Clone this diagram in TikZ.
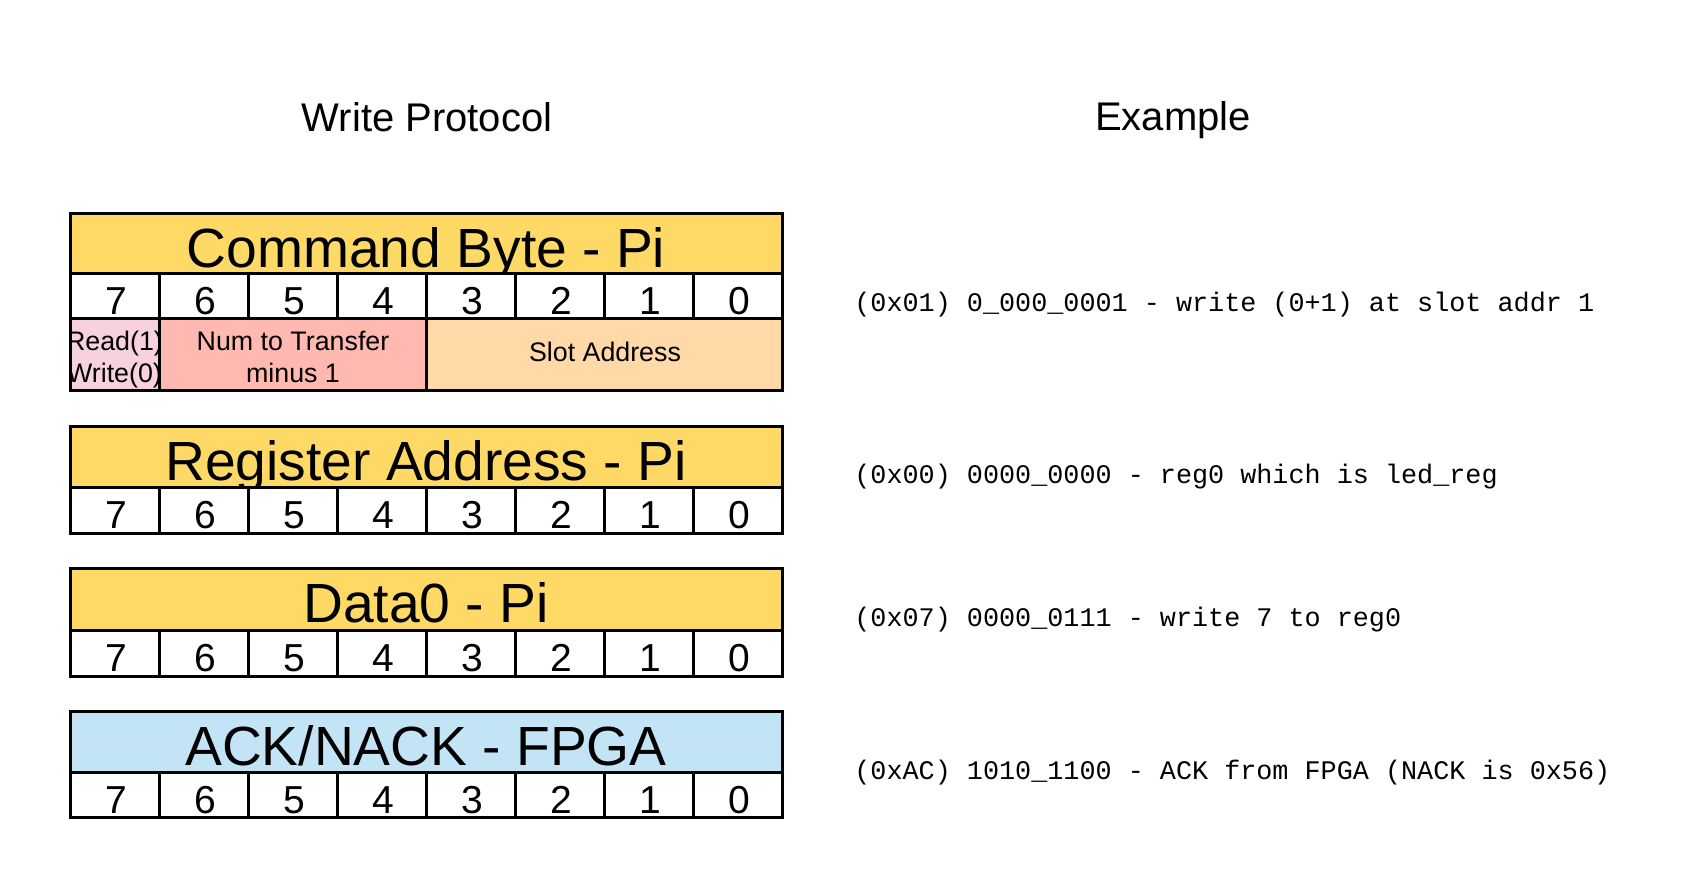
\documentclass[tikz,border=0pt]{standalone}
\usepackage{fontspec}
\setmainfont{Liberation Sans}
\setmonofont{Liberation Mono}

\definecolor{titleyellow}{HTML}{FFD966}
\definecolor{ackblue}{HTML}{C3E4F5}
\definecolor{rwpink}{HTML}{F8D1DE}
\definecolor{numsalmon}{HTML}{FFB9B0}
\definecolor{slotpeach}{HTML}{FFD9A8}

\tikzset{
  boxcell/.style={draw=black, line width=1.5pt, rectangle, inner sep=0pt, outer sep=0pt, anchor=north west},
  titlecell/.style={boxcell, minimum width=356pt},
  bitcell/.style={boxcell, fill=white, minimum width=44.5pt},
  heading/.style={anchor=base, inner sep=0pt, font=\fontsize{20}{24}\selectfont},
  titletext/.style={anchor=base, inner sep=0pt, font=\fontsize{27.6}{33}\selectfont},
  bittext/.style={anchor=base, inner sep=0pt, font=\fontsize{19.5}{23}\selectfont},
  fieldtext/.style={anchor=base, inner sep=0pt, font=\fontsize{13.4}{16}\selectfont},
  example/.style={anchor=base west, inner sep=0pt, font=\ttfamily\fontsize{13.4}{16}\selectfont},
}

% #1 name, #2 top, #3 title row height, #4 bit row height, #5 fill, #6 title
\newcommand{\bytebox}[6]{%
  \node[titlecell, fill=#5, minimum height=#3*0.5pt] (#1) at (70,#2) {};
  \node[titletext] (#1-t) at ([yshift=-27.25pt]#1.north) {#6};
  \foreach \b [evaluate=\b as \xx using 70+89*(7-\b)] in {7,6,5,4,3,2,1,0} {
    \node[bitcell, minimum height=#4*0.5pt] (#1-b\b) at (\xx,#2+#3) {};
    \node[bittext] (#1-n\b) at ([xshift=1.1pt,yshift=-20.75pt]#1-b\b.north) {\b};
  }%
}

\begin{document}
\begin{tikzpicture}[x=0.5pt,y=-0.5pt]
\useasboundingbox[fill=white] (0,0) rectangle (1707,891);

% column headings
\node[heading] (hproto) at (427,131.5) {Write Protocol};
\node[heading] (hexample) at (1173,130.7) {Example};

% command byte with its field row
\bytebox{cmd}{213}{60}{45}{titleyellow}{Command Byte - Pi}
\node[boxcell, fill=rwpink, minimum width=44.5pt, minimum height=36pt] (rw) at (70,318) {};
\node[boxcell, fill=numsalmon, minimum width=133.5pt, minimum height=36pt] (num) at (159,318) {};
\node[boxcell, fill=slotpeach, minimum width=178pt, minimum height=36pt] (slot) at (426,318) {};
\begin{scope}
  \clip (rw.north west) rectangle (rw.south east);
  \node[fieldtext] (rw-a) at (114.5,350) {Read(1)};
  \node[fieldtext] (rw-b) at (114.5,382.7) {Write(0)};
\end{scope}
\draw[line width=1.5pt] (rw.north west) rectangle (rw.south east);
\node[fieldtext] (num-a) at (293,350) {Num to Transfer};
\node[fieldtext] (num-b) at (293,382.7) {minus 1};
\node[fieldtext] (slot-a) at (605,361.7) {Slot Address};

% remaining bytes
\bytebox{reg}{426}{61}{46}{titleyellow}{Register Address - Pi}
\bytebox{dat}{568}{62}{46}{titleyellow}{Data0 - Pi}
\bytebox{ack}{711}{61}{45}{ackblue}{ACK/NACK - FPGA}

% example values
\node[example] (ex1) at (854,311.7) {(0x01) 0\_000\_0001 - write (0+1) at slot addr 1};
\node[example] (ex2) at (854,483.3) {(0x00) 0000\_0000 - reg0 which is led\_reg};
\node[example] (ex3) at (854,626.7) {(0x07) 0000\_0111 - write 7 to reg0};
\node[example] (ex4) at (854,779.3) {(0xAC) 1010\_1100 - ACK from FPGA (NACK is 0x56)};
\end{tikzpicture}
\end{document}
